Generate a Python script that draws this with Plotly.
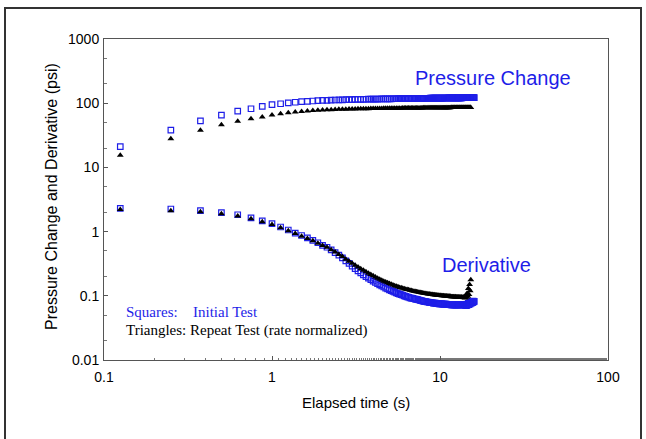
import plotly.graph_objects as go

# elapsed time (s) for each sample
t_sq = [0.125, 0.25, 0.375, 0.5, 0.625, 0.75, 0.875, 1.0,
        1.125, 1.25, 1.375, 1.5, 1.625, 1.75, 1.875, 2.0,
        2.125, 2.25, 2.375, 2.5, 2.625, 2.75, 2.875, 3.0,
        3.125, 3.25, 3.375, 3.5, 3.625, 3.75, 3.875, 4.0,
        4.125, 4.25, 4.375, 4.5, 4.625, 4.75, 4.875, 5.0,
        5.125, 5.25, 5.375, 5.5, 5.625, 5.75, 5.875, 6.0,
        6.125, 6.25, 6.375, 6.5, 6.625, 6.75, 6.875, 7.0,
        7.125, 7.25, 7.375, 7.5, 7.625, 7.75, 7.875, 8.0,
        8.125, 8.25, 8.375, 8.5, 8.625, 8.75, 8.875, 9.0,
        9.125, 9.25, 9.375, 9.5, 9.625, 9.75, 9.875, 10.0,
        10.125, 10.25, 10.375, 10.5, 10.625, 10.75, 10.875, 11.0,
        11.125, 11.25, 11.375, 11.5, 11.625, 11.75, 11.875, 12.0,
        12.125, 12.25, 12.375, 12.5, 12.625, 12.75, 12.875, 13.0,
        13.125, 13.25, 13.375, 13.5, 13.625, 13.75, 13.875, 14.0,
        14.125, 14.25, 14.375, 14.5, 14.625, 14.75, 14.875, 15.0,
        15.125, 15.25, 15.375, 15.5, 15.625, 15.75, 15.875, 16.0]
t_tri = t_sq[:122]

# Initial test (squares)
dp_initial = [21, 38, 53, 65, 75, 82, 89, 95,
              98, 101, 103.5, 105.5, 107, 108.3, 109.4, 110.3,
              111.0, 111.6, 112.1, 112.6, 113.0, 113.4, 113.7, 114.0,
              114.3, 114.6, 114.8, 115.0, 115.2, 115.4, 115.6, 115.8,
              116.0, 116.1, 116.3, 116.4, 116.6, 116.7, 116.8, 117.0,
              117.1, 117.2, 117.3, 117.4, 117.5, 117.6, 117.7, 117.8,
              117.9, 118.0, 118.1, 118.2, 118.3, 118.4, 118.5, 118.6,
              118.7, 118.8, 118.8, 118.9, 119.0, 119.1, 119.1, 119.2,
              119.3, 119.3, 119.4, 119.5, 119.5, 119.6, 119.7, 119.7,
              119.8, 119.8, 119.9, 120.0, 120.0, 120.1, 120.1, 120.2,
              120.2, 120.3, 120.3, 120.4, 120.4, 120.5, 120.5, 120.6,
              120.6, 120.7, 120.7, 120.8, 120.8, 120.9, 120.9, 121.0,
              121.0, 121.0, 121.1, 121.1, 121.2, 121.2, 121.2, 121.3,
              121.3, 121.4, 121.4, 121.4, 121.5, 121.5, 121.6, 121.6,
              121.6, 121.7, 121.7, 121.7, 121.8, 121.8, 121.8, 121.9,
              121.9, 122.0, 122.0, 122.0, 122.1, 122.1, 122.1, 122.2]
deriv_initial = [2.30, 2.25, 2.12, 1.98, 1.83, 1.64, 1.47, 1.33,
                 1.18, 1.06, 0.95, 0.87, 0.80, 0.73, 0.67, 0.61,
                 0.57, 0.52, 0.47, 0.43, 0.39, 0.35, 0.32, 0.29,
                 0.265, 0.245, 0.228, 0.212, 0.199, 0.188, 0.178, 0.169,
                 0.161, 0.154, 0.148, 0.142, 0.137, 0.132, 0.128, 0.124,
                 0.120, 0.117, 0.114, 0.111, 0.108, 0.106, 0.104, 0.102,
                 0.100, 0.098, 0.096, 0.095, 0.093, 0.092, 0.091, 0.090,
                 0.089, 0.088, 0.087, 0.086, 0.085, 0.084, 0.083, 0.082,
                 0.081, 0.081, 0.080, 0.080, 0.079, 0.079, 0.078, 0.078,
                 0.077, 0.077, 0.077, 0.076, 0.076, 0.076, 0.075, 0.075,
                 0.075, 0.075, 0.074, 0.074, 0.074, 0.074, 0.074, 0.073,
                 0.073, 0.073, 0.073, 0.073, 0.072, 0.072, 0.072, 0.072,
                 0.072, 0.072, 0.072, 0.072, 0.072, 0.072, 0.072, 0.072,
                 0.072, 0.072, 0.073, 0.072, 0.073, 0.072, 0.073, 0.072,
                 0.071, 0.073, 0.070, 0.074, 0.072, 0.076, 0.073, 0.078,
                 0.075, 0.080, 0.077, 0.082, 0.078, 0.083, 0.080, 0.082]

# Repeat test, rate normalized (triangles)
dp_repeat = [15.5, 28, 38, 46, 52.5, 57.5, 61, 65.5,
             68.5, 71, 72.8, 74.5, 75.8, 76.8, 77.6, 78.3,
             78.9, 79.4, 79.8, 80.2, 80.5, 80.8, 81.0, 81.3,
             81.5, 81.7, 81.9, 82.0, 82.2, 82.3, 82.5, 82.6,
             82.7, 82.8, 82.9, 83.0, 83.1, 83.2, 83.3, 83.4,
             83.4, 83.5, 83.6, 83.6, 83.7, 83.8, 83.8, 83.9,
             83.9, 84.0, 84.0, 84.1, 84.1, 84.2, 84.2, 84.3,
             84.3, 84.3, 84.4, 84.4, 84.5, 84.5, 84.5, 84.6,
             84.6, 84.6, 84.7, 84.7, 84.7, 84.8, 84.8, 84.8,
             84.9, 84.9, 84.9, 85.0, 85.0, 85.0, 85.0, 85.1,
             85.1, 85.1, 85.1, 85.2, 85.2, 85.2, 85.2, 85.3,
             85.3, 85.3, 85.3, 85.3, 85.4, 85.4, 85.4, 85.4,
             85.4, 85.5, 85.5, 85.5, 85.5, 85.5, 85.6, 85.6,
             85.6, 85.6, 85.6, 85.6, 85.7, 85.7, 85.7, 85.7,
             85.7, 85.7, 85.8, 85.8, 85.8, 85.8, 85.8, 85.8,
             85.9, 85.9]
deriv_repeat = [2.20, 2.12, 2.03, 1.90, 1.75, 1.58, 1.42, 1.29,
                1.15, 1.03, 0.93, 0.85, 0.78, 0.72, 0.66, 0.61,
                0.57, 0.52, 0.48, 0.44, 0.41, 0.37, 0.345, 0.32,
                0.30, 0.28, 0.265, 0.25, 0.237, 0.225, 0.215, 0.205,
                0.196, 0.188, 0.181, 0.175, 0.169, 0.164, 0.159, 0.155,
                0.151, 0.147, 0.144, 0.141, 0.138, 0.135, 0.133, 0.131,
                0.129, 0.127, 0.125, 0.124, 0.122, 0.121, 0.119, 0.118,
                0.117, 0.116, 0.115, 0.114, 0.113, 0.112, 0.111, 0.110,
                0.109, 0.109, 0.108, 0.107, 0.107, 0.106, 0.105, 0.105,
                0.104, 0.104, 0.103, 0.103, 0.102, 0.102, 0.101, 0.101,
                0.101, 0.100, 0.100, 0.100, 0.099, 0.099, 0.099, 0.099,
                0.098, 0.098, 0.098, 0.098, 0.097, 0.097, 0.097, 0.097,
                0.097, 0.096, 0.097, 0.096, 0.096, 0.096, 0.096, 0.095,
                0.096, 0.095, 0.096, 0.095, 0.094, 0.096, 0.093, 0.097,
                0.092, 0.100, 0.095, 0.110, 0.098, 0.130, 0.105, 0.150,
                0.120, 0.178]

x_tickvals = [0.1, 1, 10, 100]
x_ticktext = ["0.1", "1", "10", "100"]
y_tickvals = [0.01, 0.1, 1, 10, 100, 1000]
y_ticktext = ["0.01", "0.1", "1", "10", "100", "1000"]

BLUE = "#1e1ee8"
SANS = "Liberation Sans, Arial"
SERIF = "Liberation Serif, Times New Roman"

fig = go.Figure()
sq = dict(symbol="square-open", size=5.5, color=BLUE, line=dict(width=1.2, color=BLUE))
tri = dict(symbol="triangle-up", size=6, color="black", line=dict(width=0))
fig.add_trace(go.Scatter(x=t_sq, y=dp_initial, mode="markers", marker=sq, showlegend=False))
fig.add_trace(go.Scatter(x=t_sq, y=deriv_initial, mode="markers", marker=sq, showlegend=False))
fig.add_trace(go.Scatter(x=t_tri, y=dp_repeat, mode="markers", marker=tri, showlegend=False))
fig.add_trace(go.Scatter(x=t_tri, y=deriv_repeat, mode="markers", marker=tri, showlegend=False))

axis_common = dict(type="log", showline=True, linecolor="#555", linewidth=1, mirror=True,
                   showgrid=False, zeroline=False, ticks="inside", ticklen=4, tickcolor="#555",
                   tickfont=dict(family=SANS, size=14, color="black"),
                   minor=dict(ticks="inside", ticklen=2.5, tickcolor="#777", showgrid=False))

fig.update_xaxes(range=[-1, 2], tickmode="array", tickvals=x_tickvals, ticktext=x_ticktext,
                 ticklabelstandoff=4, **axis_common)
fig.update_yaxes(range=[-2, 3], tickmode="array", tickvals=y_tickvals, ticktext=y_ticktext,
                 ticklabelstandoff=1, **axis_common)

W0, W1, H0, H1 = 104, 608, 39, 360
pw, ph = W1 - W0, H1 - H0


def px(x):
    return (x - W0) / pw


def py(y):
    return (H1 - y) / ph


annotations = [
    dict(text="Pressure Change and Derivative (psi)", x=px(51), y=py(197), textangle=-90,
         font=dict(family=SANS, size=16, color="black")),
    dict(text="Elapsed time (s)", x=px(356), y=py(403),
         font=dict(family=SANS, size=15, color="black")),
    dict(text="Pressure Change", x=px(493), y=py(78),
         font=dict(family=SANS, size=20, color=BLUE)),
    dict(text="Derivative", x=px(486), y=py(265),
         font=dict(family=SANS, size=20, color=BLUE)),
    dict(text="Squares:", x=px(124), y=py(312), xanchor="left",
         font=dict(family=SERIF, size=15, color=BLUE)),
    dict(text="Initial Test", x=px(191), y=py(312), xanchor="left",
         font=dict(family=SERIF, size=15, color=BLUE)),
    dict(text="Triangles: Repeat Test (rate normalized)", x=px(124), y=py(330), xanchor="left",
         font=dict(family=SERIF, size=15, color="black")),
]
for a in annotations:
    a.update(xref="paper", yref="paper", showarrow=False, yanchor="middle",
             xanchor=a.get("xanchor", "center"))

fig.update_layout(
    width=646, height=439,
    margin=dict(l=W0, r=646 - W1, t=H0, b=439 - H1),
    paper_bgcolor="white", plot_bgcolor="white",
    annotations=annotations,
    shapes=[dict(type="rect", xref="paper", yref="paper", x0=px(5), x1=px(641), y0=py(445), y1=py(8),
                 line=dict(color="#333", width=2), fillcolor="rgba(0,0,0,0)", layer="below")],
)

fig.write_html("out.html")
